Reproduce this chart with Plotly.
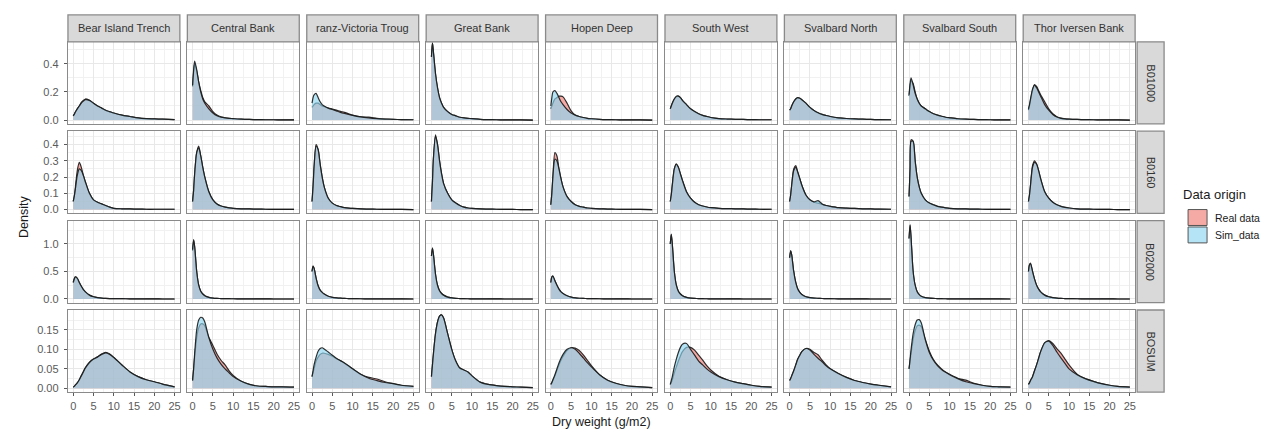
import plotly.graph_objects as go

# ---------------- data ----------------
X_GRID = [0, 0.25, 0.5, 1, 1.5, 2, 2.5, 3, 4, 5, 6, 7, 8, 9, 10, 12, 14, 16, 18, 20, 22, 25]

AREA_LABELS = ["Bear Island Trench", "Central Bank", "ranz-Victoria Troug", "Great Bank",
               "Hopen Deep", "South West", "Svalbard North", "Svalbard South", "Thor Iversen Bank"]
GROUPS = ["B01000", "B0160", "B02000", "BOSUM"]
ORIGINS = ["Real data", "Sim_data"]

X_TICKS = [0, 5, 10, 15, 20, 25]
Y_TICKS = [[0.0, 0.2, 0.4], [0.0, 0.1, 0.2, 0.3, 0.4], [0.0, 0.5, 1.0], [0.0, 0.05, 0.10, 0.15]]
Y_TICK_TEXT = [["0.0", "0.2", "0.4"], ["0.0", "0.1", "0.2", "0.3", "0.4"],
               ["0.0", "0.5", "1.0"], ["0.00", "0.05", "0.10", "0.15"]]

# density values at X_GRID, one list per area (same order as AREA_LABELS)
SIM_B01000 = [
    [0.03, 0.04, 0.055, 0.08, 0.10, 0.12, 0.135, 0.145, 0.14, 0.12, 0.10, 0.085, 0.07, 0.06, 0.05, 0.035, 0.025, 0.015, 0.01, 0.008, 0.006, 0.003],
    [0.25, 0.36, 0.42, 0.36, 0.27, 0.20, 0.15, 0.12, 0.08, 0.05, 0.03, 0.02, 0.015, 0.012, 0.01, 0.006, 0.004, 0.003, 0.002, 0.002, 0.001, 0.001],
    [0.12, 0.16, 0.18, 0.19, 0.16, 0.13, 0.11, 0.10, 0.085, 0.075, 0.065, 0.055, 0.047, 0.04, 0.033, 0.022, 0.015, 0.01, 0.007, 0.005, 0.003, 0.002],
    [0.45, 0.55, 0.48, 0.33, 0.23, 0.16, 0.12, 0.09, 0.06, 0.04, 0.03, 0.02, 0.015, 0.012, 0.01, 0.005, 0.003, 0.002, 0.001, 0.001, 0.001, 0.0],
    [0.10, 0.16, 0.20, 0.21, 0.19, 0.16, 0.13, 0.11, 0.075, 0.05, 0.035, 0.025, 0.018, 0.012, 0.009, 0.005, 0.003, 0.002, 0.001, 0.001, 0.001, 0.0],
    [0.08, 0.10, 0.12, 0.15, 0.17, 0.17, 0.16, 0.14, 0.11, 0.08, 0.06, 0.045, 0.033, 0.025, 0.018, 0.01, 0.007, 0.005, 0.004, 0.003, 0.002, 0.002],
    [0.07, 0.08, 0.10, 0.13, 0.15, 0.16, 0.155, 0.145, 0.12, 0.09, 0.068, 0.052, 0.04, 0.032, 0.025, 0.016, 0.011, 0.008, 0.006, 0.004, 0.003, 0.002],
    [0.18, 0.26, 0.30, 0.25, 0.19, 0.15, 0.12, 0.10, 0.08, 0.06, 0.045, 0.035, 0.027, 0.02, 0.016, 0.009, 0.006, 0.004, 0.003, 0.002, 0.001, 0.001],
    [0.08, 0.11, 0.15, 0.22, 0.25, 0.23, 0.20, 0.17, 0.11, 0.07, 0.04, 0.022, 0.012, 0.008, 0.006, 0.004, 0.003, 0.002, 0.001, 0.001, 0.001, 0.0],
]
REAL_B01000 = [
    [0.03, 0.04, 0.055, 0.08, 0.10, 0.125, 0.14, 0.15, 0.14, 0.12, 0.10, 0.085, 0.07, 0.058, 0.05, 0.035, 0.025, 0.015, 0.01, 0.008, 0.006, 0.003],
    [0.24, 0.34, 0.40, 0.35, 0.27, 0.21, 0.16, 0.13, 0.10, 0.06, 0.035, 0.022, 0.016, 0.012, 0.01, 0.006, 0.004, 0.003, 0.002, 0.002, 0.001, 0.001],
    [0.09, 0.10, 0.11, 0.12, 0.12, 0.11, 0.10, 0.095, 0.085, 0.078, 0.07, 0.062, 0.055, 0.045, 0.035, 0.022, 0.02, 0.012, 0.007, 0.005, 0.003, 0.002],
    [0.45, 0.55, 0.48, 0.33, 0.23, 0.16, 0.12, 0.09, 0.06, 0.04, 0.03, 0.02, 0.015, 0.012, 0.01, 0.005, 0.003, 0.002, 0.001, 0.001, 0.001, 0.0],
    [0.08, 0.10, 0.12, 0.15, 0.16, 0.17, 0.17, 0.165, 0.12, 0.065, 0.035, 0.025, 0.018, 0.012, 0.009, 0.005, 0.003, 0.002, 0.001, 0.001, 0.001, 0.0],
    [0.08, 0.10, 0.12, 0.15, 0.165, 0.17, 0.16, 0.14, 0.11, 0.08, 0.06, 0.045, 0.033, 0.025, 0.018, 0.01, 0.007, 0.005, 0.004, 0.003, 0.002, 0.002],
    [0.07, 0.08, 0.10, 0.13, 0.15, 0.16, 0.155, 0.145, 0.12, 0.09, 0.068, 0.052, 0.04, 0.032, 0.025, 0.016, 0.011, 0.008, 0.006, 0.004, 0.003, 0.002],
    [0.17, 0.24, 0.28, 0.26, 0.20, 0.15, 0.12, 0.10, 0.08, 0.06, 0.045, 0.035, 0.027, 0.02, 0.016, 0.009, 0.006, 0.004, 0.003, 0.002, 0.001, 0.001],
    [0.07, 0.10, 0.14, 0.21, 0.25, 0.24, 0.21, 0.18, 0.13, 0.08, 0.045, 0.024, 0.013, 0.008, 0.006, 0.004, 0.003, 0.002, 0.001, 0.001, 0.001, 0.0],
]
SIM_B0160 = [
    [0.05, 0.08, 0.12, 0.21, 0.25, 0.24, 0.21, 0.17, 0.10, 0.06, 0.045, 0.035, 0.025, 0.015, 0.008, 0.005, 0.004, 0.003, 0.002, 0.002, 0.002, 0.002],
    [0.05, 0.12, 0.22, 0.35, 0.38, 0.33, 0.26, 0.20, 0.11, 0.06, 0.035, 0.022, 0.015, 0.011, 0.008, 0.005, 0.004, 0.003, 0.002, 0.001, 0.001, 0.001],
    [0.05, 0.14, 0.26, 0.39, 0.37, 0.28, 0.20, 0.14, 0.07, 0.04, 0.025, 0.018, 0.012, 0.009, 0.007, 0.004, 0.003, 0.002, 0.001, 0.001, 0.001, 0.0],
    [0.05, 0.17, 0.32, 0.45, 0.40, 0.30, 0.22, 0.16, 0.10, 0.06, 0.04, 0.025, 0.015, 0.01, 0.007, 0.004, 0.003, 0.002, 0.001, 0.001, 0.0, 0.0],
    [0.03, 0.10, 0.20, 0.31, 0.30, 0.25, 0.19, 0.14, 0.08, 0.05, 0.03, 0.02, 0.015, 0.01, 0.008, 0.005, 0.003, 0.002, 0.001, 0.001, 0.001, 0.0],
    [0.05, 0.09, 0.15, 0.25, 0.28, 0.26, 0.22, 0.18, 0.11, 0.07, 0.045, 0.03, 0.022, 0.016, 0.012, 0.008, 0.006, 0.005, 0.004, 0.003, 0.002, 0.002],
    [0.05, 0.09, 0.15, 0.24, 0.26, 0.23, 0.19, 0.15, 0.09, 0.06, 0.048, 0.055, 0.035, 0.025, 0.02, 0.012, 0.009, 0.007, 0.005, 0.004, 0.003, 0.002],
    [0.08, 0.25, 0.42, 0.42, 0.30, 0.20, 0.14, 0.10, 0.06, 0.04, 0.03, 0.02, 0.015, 0.011, 0.008, 0.005, 0.004, 0.003, 0.002, 0.001, 0.001, 0.001],
    [0.05, 0.09, 0.15, 0.26, 0.29, 0.28, 0.24, 0.19, 0.11, 0.07, 0.045, 0.03, 0.02, 0.014, 0.01, 0.005, 0.003, 0.002, 0.001, 0.001, 0.0, 0.0],
]
REAL_B0160 = [
    [0.05, 0.08, 0.13, 0.24, 0.29, 0.26, 0.21, 0.17, 0.10, 0.06, 0.045, 0.035, 0.025, 0.015, 0.008, 0.005, 0.004, 0.003, 0.002, 0.002, 0.002, 0.002],
    [0.05, 0.12, 0.22, 0.35, 0.39, 0.33, 0.26, 0.20, 0.11, 0.06, 0.035, 0.022, 0.015, 0.011, 0.008, 0.005, 0.004, 0.003, 0.002, 0.001, 0.001, 0.001],
    [0.05, 0.14, 0.26, 0.40, 0.37, 0.28, 0.20, 0.14, 0.07, 0.04, 0.025, 0.018, 0.012, 0.009, 0.007, 0.004, 0.003, 0.002, 0.001, 0.001, 0.001, 0.0],
    [0.05, 0.17, 0.32, 0.46, 0.40, 0.30, 0.22, 0.16, 0.10, 0.06, 0.04, 0.025, 0.015, 0.01, 0.007, 0.004, 0.003, 0.002, 0.001, 0.001, 0.0, 0.0],
    [0.03, 0.10, 0.20, 0.35, 0.33, 0.25, 0.19, 0.14, 0.08, 0.05, 0.03, 0.02, 0.015, 0.01, 0.008, 0.005, 0.003, 0.002, 0.001, 0.001, 0.001, 0.0],
    [0.05, 0.09, 0.15, 0.25, 0.28, 0.26, 0.22, 0.18, 0.11, 0.07, 0.045, 0.03, 0.022, 0.016, 0.012, 0.008, 0.006, 0.005, 0.004, 0.003, 0.002, 0.002],
    [0.05, 0.09, 0.15, 0.25, 0.27, 0.23, 0.19, 0.15, 0.09, 0.06, 0.045, 0.04, 0.032, 0.025, 0.02, 0.012, 0.009, 0.007, 0.005, 0.004, 0.003, 0.002],
    [0.08, 0.25, 0.43, 0.42, 0.30, 0.20, 0.14, 0.10, 0.06, 0.04, 0.03, 0.02, 0.015, 0.011, 0.008, 0.005, 0.004, 0.003, 0.002, 0.001, 0.001, 0.001],
    [0.05, 0.09, 0.15, 0.27, 0.30, 0.28, 0.24, 0.19, 0.11, 0.07, 0.045, 0.03, 0.02, 0.014, 0.01, 0.005, 0.003, 0.002, 0.001, 0.001, 0.0, 0.0],
]
SIM_B02000 = [
    [0.30, 0.36, 0.40, 0.38, 0.30, 0.23, 0.17, 0.13, 0.07, 0.04, 0.025, 0.015, 0.01, 0.008, 0.007, 0.005, 0.003, 0.002, 0.001, 0.001, 0.0, 0.0],
    [0.90, 1.08, 0.95, 0.50, 0.25, 0.14, 0.09, 0.06, 0.03, 0.015, 0.01, 0.008, 0.006, 0.005, 0.004, 0.003, 0.002, 0.001, 0.001, 0.0, 0.0, 0.0],
    [0.50, 0.60, 0.56, 0.38, 0.24, 0.16, 0.12, 0.09, 0.05, 0.03, 0.02, 0.014, 0.01, 0.008, 0.006, 0.004, 0.003, 0.002, 0.004, 0.002, 0.001, 0.0],
    [0.78, 0.93, 0.80, 0.45, 0.25, 0.15, 0.10, 0.07, 0.035, 0.02, 0.012, 0.008, 0.005, 0.004, 0.003, 0.002, 0.001, 0.001, 0.0, 0.0, 0.0, 0.0],
    [0.30, 0.40, 0.42, 0.33, 0.25, 0.18, 0.13, 0.10, 0.06, 0.035, 0.02, 0.013, 0.01, 0.008, 0.006, 0.004, 0.002, 0.001, 0.001, 0.0, 0.0, 0.0],
    [1.00, 1.18, 1.00, 0.50, 0.25, 0.14, 0.09, 0.06, 0.03, 0.015, 0.01, 0.007, 0.005, 0.004, 0.003, 0.002, 0.001, 0.001, 0.0, 0.0, 0.0, 0.0],
    [0.75, 0.88, 0.80, 0.50, 0.30, 0.18, 0.12, 0.08, 0.04, 0.025, 0.016, 0.012, 0.009, 0.007, 0.005, 0.003, 0.002, 0.001, 0.001, 0.0, 0.0, 0.0],
    [1.10, 1.35, 1.10, 0.50, 0.25, 0.13, 0.08, 0.05, 0.025, 0.015, 0.01, 0.007, 0.005, 0.004, 0.003, 0.002, 0.002, 0.001, 0.001, 0.001, 0.001, 0.0],
    [0.50, 0.62, 0.65, 0.50, 0.36, 0.25, 0.18, 0.13, 0.07, 0.04, 0.025, 0.015, 0.01, 0.008, 0.006, 0.004, 0.003, 0.002, 0.001, 0.001, 0.0, 0.0],
]
REAL_B02000 = [
    [0.30, 0.37, 0.40, 0.37, 0.30, 0.23, 0.17, 0.13, 0.07, 0.04, 0.025, 0.015, 0.01, 0.008, 0.007, 0.005, 0.003, 0.002, 0.001, 0.001, 0.0, 0.0],
    [0.88, 1.07, 0.95, 0.50, 0.25, 0.14, 0.09, 0.06, 0.03, 0.015, 0.01, 0.008, 0.006, 0.005, 0.004, 0.003, 0.002, 0.001, 0.001, 0.0, 0.0, 0.0],
    [0.50, 0.59, 0.56, 0.38, 0.24, 0.16, 0.12, 0.09, 0.05, 0.03, 0.02, 0.014, 0.01, 0.008, 0.006, 0.004, 0.003, 0.002, 0.004, 0.002, 0.001, 0.0],
    [0.78, 0.92, 0.80, 0.45, 0.25, 0.15, 0.10, 0.07, 0.035, 0.02, 0.012, 0.008, 0.005, 0.004, 0.003, 0.002, 0.001, 0.001, 0.0, 0.0, 0.0, 0.0],
    [0.30, 0.40, 0.41, 0.33, 0.25, 0.18, 0.13, 0.10, 0.06, 0.035, 0.02, 0.013, 0.01, 0.008, 0.006, 0.004, 0.002, 0.001, 0.001, 0.0, 0.0, 0.0],
    [1.00, 1.17, 1.00, 0.50, 0.25, 0.14, 0.09, 0.06, 0.03, 0.015, 0.01, 0.007, 0.005, 0.004, 0.003, 0.002, 0.001, 0.001, 0.0, 0.0, 0.0, 0.0],
    [0.75, 0.87, 0.80, 0.50, 0.30, 0.18, 0.12, 0.08, 0.04, 0.025, 0.016, 0.012, 0.009, 0.007, 0.005, 0.003, 0.002, 0.001, 0.001, 0.0, 0.0, 0.0],
    [1.10, 1.34, 1.10, 0.50, 0.25, 0.13, 0.08, 0.05, 0.025, 0.015, 0.01, 0.007, 0.005, 0.004, 0.003, 0.002, 0.002, 0.001, 0.001, 0.001, 0.001, 0.0],
    [0.50, 0.62, 0.64, 0.50, 0.36, 0.25, 0.18, 0.13, 0.07, 0.04, 0.025, 0.015, 0.01, 0.008, 0.006, 0.004, 0.003, 0.002, 0.001, 0.001, 0.0, 0.0],
]
SIM_BOSUM = [
    [0.003, 0.005, 0.008, 0.014, 0.022, 0.032, 0.042, 0.052, 0.066, 0.075, 0.080, 0.087, 0.091, 0.087, 0.079, 0.060, 0.042, 0.030, 0.022, 0.017, 0.011, 0.004],
    [0.02, 0.05, 0.09, 0.15, 0.175, 0.182, 0.18, 0.17, 0.13, 0.10, 0.078, 0.062, 0.05, 0.04, 0.03, 0.018, 0.01, 0.006, 0.005, 0.004, 0.004, 0.003],
    [0.03, 0.045, 0.06, 0.08, 0.095, 0.102, 0.104, 0.101, 0.093, 0.085, 0.077, 0.071, 0.065, 0.058, 0.05, 0.036, 0.026, 0.02, 0.015, 0.012, 0.008, 0.005],
    [0.03, 0.06, 0.09, 0.14, 0.17, 0.185, 0.188, 0.18, 0.14, 0.10, 0.07, 0.052, 0.047, 0.042, 0.032, 0.016, 0.01, 0.007, 0.005, 0.004, 0.003, 0.002],
    [0.01, 0.015, 0.022, 0.035, 0.05, 0.065, 0.077, 0.087, 0.10, 0.104, 0.10, 0.09, 0.078, 0.066, 0.055, 0.035, 0.021, 0.013, 0.008, 0.005, 0.004, 0.002],
    [0.01, 0.02, 0.03, 0.055, 0.075, 0.092, 0.105, 0.113, 0.115, 0.10, 0.085, 0.07, 0.06, 0.05, 0.042, 0.03, 0.022, 0.016, 0.012, 0.008, 0.005, 0.003],
    [0.02, 0.025, 0.032, 0.045, 0.06, 0.075, 0.085, 0.094, 0.102, 0.098, 0.087, 0.077, 0.068, 0.058, 0.05, 0.038, 0.028, 0.02, 0.015, 0.011, 0.008, 0.004],
    [0.05, 0.075, 0.10, 0.14, 0.163, 0.175, 0.176, 0.168, 0.125, 0.092, 0.072, 0.058, 0.048, 0.041, 0.035, 0.025, 0.017, 0.012, 0.008, 0.005, 0.004, 0.003],
    [0.01, 0.014, 0.02, 0.03, 0.045, 0.06, 0.077, 0.094, 0.117, 0.121, 0.11, 0.093, 0.078, 0.064, 0.05, 0.035, 0.025, 0.018, 0.012, 0.008, 0.005, 0.003],
]
REAL_BOSUM = [
    [0.003, 0.005, 0.008, 0.014, 0.022, 0.033, 0.043, 0.053, 0.067, 0.075, 0.081, 0.088, 0.092, 0.088, 0.079, 0.060, 0.042, 0.030, 0.022, 0.017, 0.011, 0.004],
    [0.02, 0.05, 0.08, 0.13, 0.155, 0.165, 0.165, 0.16, 0.13, 0.11, 0.088, 0.072, 0.06, 0.045, 0.033, 0.018, 0.01, 0.006, 0.005, 0.004, 0.004, 0.003],
    [0.03, 0.04, 0.05, 0.07, 0.08, 0.087, 0.09, 0.09, 0.087, 0.082, 0.076, 0.071, 0.064, 0.057, 0.05, 0.036, 0.028, 0.024, 0.017, 0.012, 0.008, 0.005],
    [0.03, 0.06, 0.09, 0.14, 0.17, 0.185, 0.188, 0.18, 0.14, 0.10, 0.07, 0.052, 0.047, 0.042, 0.032, 0.016, 0.01, 0.007, 0.005, 0.004, 0.003, 0.002],
    [0.01, 0.014, 0.02, 0.032, 0.046, 0.06, 0.072, 0.082, 0.097, 0.104, 0.103, 0.097, 0.086, 0.072, 0.058, 0.035, 0.021, 0.013, 0.008, 0.005, 0.004, 0.002],
    [0.01, 0.015, 0.022, 0.04, 0.055, 0.07, 0.083, 0.094, 0.105, 0.105, 0.098, 0.085, 0.072, 0.058, 0.047, 0.031, 0.022, 0.016, 0.012, 0.008, 0.005, 0.003],
    [0.02, 0.025, 0.032, 0.045, 0.06, 0.075, 0.085, 0.094, 0.102, 0.10, 0.092, 0.086, 0.072, 0.06, 0.05, 0.038, 0.028, 0.02, 0.015, 0.011, 0.008, 0.004],
    [0.05, 0.07, 0.09, 0.125, 0.148, 0.16, 0.162, 0.158, 0.125, 0.095, 0.074, 0.06, 0.05, 0.042, 0.036, 0.026, 0.021, 0.013, 0.008, 0.005, 0.004, 0.003],
    [0.01, 0.014, 0.02, 0.03, 0.045, 0.06, 0.077, 0.094, 0.116, 0.122, 0.115, 0.102, 0.09, 0.075, 0.06, 0.036, 0.025, 0.018, 0.012, 0.008, 0.005, 0.003],
]

REAL_ROWS = [REAL_B01000, REAL_B0160, REAL_B02000, REAL_BOSUM]
SIM_ROWS = [SIM_B01000, SIM_B0160, SIM_B02000, SIM_BOSUM]

# ---------------- styling / layout ----------------
W, H = 1273, 430
FONT = "Liberation Sans, Arial, sans-serif"
REAL_FILL = "rgba(240,124,117,0.65)"
SIM_FILL = "rgba(140,213,240,0.65)"
REAL_KEY = "rgb(245,170,165)"
SIM_KEY = "rgb(180,228,245)"
OUTLINE = "rgba(25,25,25,0.9)"
BORDER = "#8a8a8a"
STRIP_BG = "#d9d9d9"
GRID_MAJOR = "#e8e8e8"
GRID_MINOR = "#f1f1f1"
TICK_COLOR = "#5a5a5a"

Y_RANGES = [[-0.028, 0.557], [-0.023, 0.482], [-0.068, 1.424], [-0.0096, 0.2007]]
Y_MINOR = [0.1, 0.05, 0.25, 0.025]

PANEL_LEFT, PANEL_STEP, PANEL_W = 60, 119.5, 112
ROW_TOP, ROW_STEP, ROW_H = 34, 89.8, 82.5
STRIP_TOP = 7
RSTRIP_X0, RSTRIP_X1 = 1130, 1157


def fx(p):
    return p / W


def fy(p):
    return 1 - p / H


fig = go.Figure()
layout = dict(
    width=W, height=H, margin=dict(l=0, r=0, t=0, b=0),
    paper_bgcolor="white", plot_bgcolor="white", showlegend=False,
    font=dict(family=FONT, color="#1a1a1a"),
)
shapes, annotations = [], []

n_rows, n_cols = len(GROUPS), len(AREA_LABELS)
for r in range(n_rows):
    top = ROW_TOP + r * ROW_STEP
    bottom = top + ROW_H
    for c in range(n_cols):
        n = r * n_cols + c + 1
        left = PANEL_LEFT + c * PANEL_STEP
        right = left + PANEL_W
        xs = "x" if n == 1 else f"x{n}"
        ys = "y" if n == 1 else f"y{n}"
        xk = "xaxis" if n == 1 else f"xaxis{n}"
        yk = "yaxis" if n == 1 else f"yaxis{n}"

        for vals, fill, name in ((REAL_ROWS[r][c], REAL_FILL, ORIGINS[0]),
                                 (SIM_ROWS[r][c], SIM_FILL, ORIGINS[1])):
            fig.add_trace(go.Scatter(
                x=X_GRID, y=vals, mode="lines", name=name, xaxis=xs, yaxis=ys,
                fill="tozeroy", fillcolor=fill,
                line=dict(color=OUTLINE, width=1.2, shape="spline", smoothing=0.7),
                hoverinfo="skip",
            ))

        bottom_row = r == n_rows - 1
        first_col = c == 0
        layout[xk] = dict(
            domain=[fx(left), fx(right)], anchor=ys, range=[-1.3, 26.3],
            tickmode="array", tickvals=X_TICKS, ticktext=[str(t) for t in X_TICKS],
            showticklabels=bottom_row, ticks="outside" if bottom_row else "",
            ticklen=3, tickcolor=TICK_COLOR, ticklabelstandoff=1,
            tickfont=dict(size=11, color=TICK_COLOR, family=FONT),
            showgrid=True, gridcolor=GRID_MAJOR, gridwidth=1,
            minor=dict(tick0=0, dtick=2.5, showgrid=True, gridcolor=GRID_MINOR, gridwidth=0.6),
            showline=True, mirror=True, linecolor=BORDER, linewidth=1.3,
            zeroline=False, fixedrange=True,
        )
        layout[yk] = dict(
            domain=[fy(bottom), fy(top)], anchor=xs, range=Y_RANGES[r],
            tickmode="array", tickvals=Y_TICKS[r], ticktext=Y_TICK_TEXT[r],
            showticklabels=first_col, ticks="outside" if first_col else "",
            ticklen=3, tickcolor=TICK_COLOR, ticklabelstandoff=3,
            tickfont=dict(size=11, color=TICK_COLOR, family=FONT),
            showgrid=True, gridcolor=GRID_MAJOR, gridwidth=1,
            minor=dict(tick0=0, dtick=Y_MINOR[r], showgrid=True, gridcolor=GRID_MINOR, gridwidth=0.6),
            showline=True, mirror=True, linecolor=BORDER, linewidth=1.3,
            zeroline=False, fixedrange=True,
        )

        if r == 0:
            shapes.append(dict(type="rect", xref="paper", yref="paper",
                               x0=fx(left), x1=fx(right), y0=fy(top), y1=fy(STRIP_TOP),
                               fillcolor=STRIP_BG, line=dict(color=BORDER, width=1.3)))
            annotations.append(dict(xref="paper", yref="paper", x=fx((left + right) / 2),
                                    y=fy((STRIP_TOP + top) / 2), text=AREA_LABELS[c],
                                    showarrow=False, xanchor="center", yanchor="middle",
                                    font=dict(size=11, color="#333333", family=FONT)))
    shapes.append(dict(type="rect", xref="paper", yref="paper",
                       x0=fx(RSTRIP_X0), x1=fx(RSTRIP_X1), y0=fy(bottom), y1=fy(top),
                       fillcolor=STRIP_BG, line=dict(color=BORDER, width=1.3)))
    annotations.append(dict(xref="paper", yref="paper", x=fx((RSTRIP_X0 + RSTRIP_X1) / 2),
                            y=fy((top + bottom) / 2), text=GROUPS[r], textangle=90,
                            showarrow=False, xanchor="center", yanchor="middle",
                            font=dict(size=11, color="#333333", family=FONT)))

# axis titles
annotations.append(dict(xref="paper", yref="paper", x=fx(594), y=fy(416), text="Dry weight (g/m2)",
                        showarrow=False, xanchor="center", yanchor="middle",
                        font=dict(size=12.5, color="#1a1a1a", family=FONT)))
annotations.append(dict(xref="paper", yref="paper", x=fx(16), y=fy(210), text="Density",
                        textangle=-90, showarrow=False, xanchor="center", yanchor="middle",
                        font=dict(size=12.5, color="#1a1a1a", family=FONT)))

# legend (drawn manually, ggplot style)
annotations.append(dict(xref="paper", yref="paper", x=fx(1174), y=fy(187), text="Data origin",
                        showarrow=False, xanchor="left", yanchor="middle",
                        font=dict(size=13, color="#1a1a1a", family=FONT)))
for i, (label, key) in enumerate(zip(ORIGINS, (REAL_KEY, SIM_KEY))):
    y0 = 202 + i * 17.5
    shapes.append(dict(type="rect", xref="paper", yref="paper",
                       x0=fx(1181), x1=fx(1200), y0=fy(y0 + 16.5), y1=fy(y0 + 0.5),
                       fillcolor=key, line=dict(color="#555", width=1)))
    annotations.append(dict(xref="paper", yref="paper", x=fx(1206), y=fy(y0 + 8.5), text=label,
                            showarrow=False, xanchor="left", yanchor="middle",
                            font=dict(size=10.5, color="#1a1a1a", family=FONT)))

layout["shapes"] = shapes
layout["annotations"] = annotations
fig.update_layout(**layout)
fig.write_html("out.html")
